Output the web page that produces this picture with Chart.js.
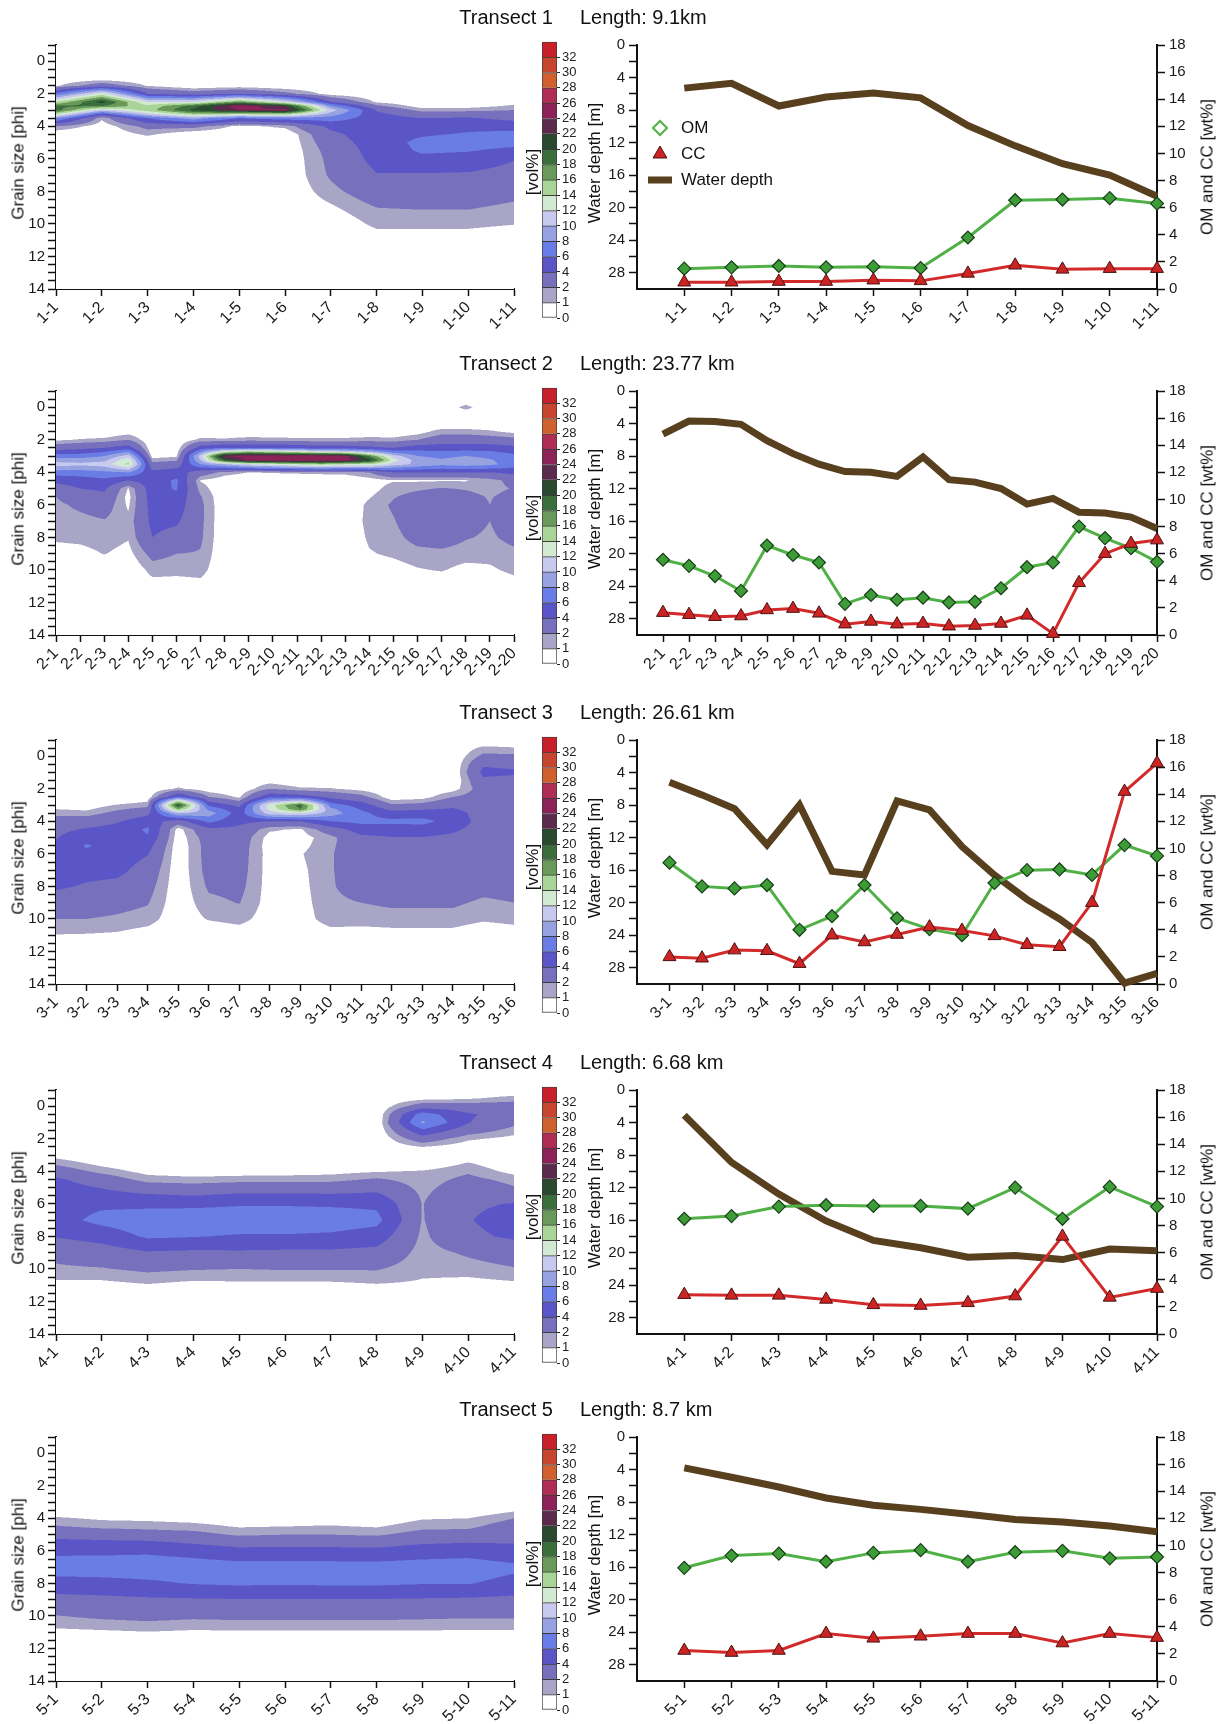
<!DOCTYPE html>
<html>
<head>
<meta charset="utf-8">
<title>Transects</title>
<script src="https://cdn.jsdelivr.net/npm/chart.js@4.4.1/dist/chart.umd.min.js"></script>
<style>
	body { margin: 0; background: #fff; }
	#page { position: relative; width: 1226px; height: 1724px; overflow: hidden; font-family: "Liberation Sans", Arial, sans-serif; color: #111; }
	#page canvas { position: absolute; }
	.title { position: absolute; font-size: 20px; line-height: 20px; white-space: nowrap; transform: translateY(-50%); }
	.axis-title { position: absolute; font-size: 17px; line-height: 17px; white-space: nowrap; transform: translate(-50%, -50%) rotate(-90deg); }
</style>
</head>
<body>
<div id="page"></div>
<script>
// grain size classes (phi) at which each sample's vol% is given
const phiGrid = [-1, -0.5, 0, 0.5, 1, 1.5, 2, 2.5, 2.75, 3, 3.25, 3.5, 4, 4.5, 5, 5.5, 6, 7, 8, 9, 10, 11, 12];
const volLevels = [0, 1, 2, 4, 6, 8, 10, 12, 14, 16, 18, 20, 22, 24, 26, 28, 30, 32];
const volColors = ['#ffffff', '#a8a5c7', '#7670bd', '#5a56c8', '#6a7ce6', '#97a3e0', '#c8c9ee', '#d2e9d2', '#a8d497', '#6a9a5a', '#3a6e3c', '#2a4a30', '#5c2a4c', '#8c2358', '#b02e55', '#d0602e', '#c84530', '#c8202a'];
const grainTickLabels = [0, 2, 4, 6, 8, 10, 12, 14];
const depthTickValues = [0, 2, 4, 6, 8, 10, 12, 14, 16, 18, 20, 22, 24, 26, 28];
const wtTickValues = [0, 2, 4, 6, 8, 10, 12, 14, 16, 18];
const legendLabels = ['OM', 'CC', 'Water depth'];

const t1Samples = ['1-1', '1-2', '1-3', '1-4', '1-5', '1-6', '1-7', '1-8', '1-9', '1-10', '1-11'];
const t1Depth = [5.3, 4.7, 7.5, 6.4, 5.9, 6.5, 9.9, 12.4, 14.6, 16.0, 18.6];
const t1OM = [1.5, 1.6, 1.7, 1.6, 1.65, 1.55, 3.8, 6.55, 6.6, 6.7, 6.3];
const t1CC = [0.5, 0.5, 0.55, 0.55, 0.65, 0.6, 1.15, 1.75, 1.45, 1.5, 1.5];
const t1Grain = [
	[0, 0, 0, 0, 0, 0.8, 6.5, 14, 18.5, 19, 14, 8, 2, 0, 0, 0, 0, 0, 0, 0, 0, 0, 0],
	[0, 0, 0, 0, 0, 3, 13, 21, 18, 11, 5, 1.2, 0.3, 0, 0, 0, 0, 0, 0, 0, 0, 0, 0],
	[0, 0, 0, 0, 0, 0.9, 4, 12, 14.5, 15, 11, 6, 2.5, 1.2, 0, 0, 0, 0, 0, 0, 0, 0, 0],
	[0, 0, 0, 0, 0, 0, 3, 12, 19, 20.5, 15, 9, 2.5, 0, 0, 0, 0, 0, 0, 0, 0, 0, 0],
	[0, 0, 0, 0, 0, 0.3, 4, 17, 25.5, 24, 14, 6, 0.6, 0, 0, 0, 0, 0, 0, 0, 0, 0, 0],
	[0, 0, 0, 0, 0, 0, 2.5, 12, 22, 24.5, 15, 7, 1.3, 0, 0, 0, 0, 0, 0, 0, 0, 0, 0],
	[0, 0, 0, 0, 0, 0, 0.5, 4, 8, 11, 9, 7, 4.5, 3.5, 3, 2.6, 2.4, 2.2, 1.6, 0.8, 0, 0, 0],
	[0, 0, 0, 0, 0, 0, 0, 0.8, 2.3, 3.8, 4.5, 5, 5.2, 5.2, 5, 4.8, 4.6, 3.9, 3, 2, 1.3, 0.3, 0],
	[0, 0, 0, 0, 0, 0, 0, 0, 0.4, 1.5, 2.8, 4, 5, 5.8, 6.5, 6.3, 5.5, 3.8, 3, 2.1, 1.3, 0.3, 0],
	[0, 0, 0, 0, 0, 0, 0, 0, 0.5, 1.6, 3, 4.2, 5.5, 6.2, 6.8, 6.1, 5.3, 3.7, 3, 2.1, 1.3, 0.3, 0],
	[0, 0, 0, 0, 0, 0, 0, 0.5, 1.2, 2, 2.8, 3.5, 5, 6.8, 6.6, 5.5, 4.1, 3.2, 2.5, 1.7, 1.05, 0, 0],
];

const t2Samples = ['2-1', '2-2', '2-3', '2-4', '2-5', '2-6', '2-7', '2-8', '2-9', '2-10', '2-11', '2-12', '2-13', '2-14', '2-15', '2-16', '2-17', '2-18', '2-19', '2-20'];
const t2Depth = [5.3, 3.7, 3.75, 4.1, 6.1, 7.7, 9.0, 9.9, 10.0, 10.5, 8.1, 10.9, 11.2, 12.0, 13.9, 13.2, 14.9, 15.0, 15.5, 16.9];
const t2OM = [5.55, 5.1, 4.35, 3.25, 6.6, 5.9, 5.35, 2.3, 2.95, 2.6, 2.75, 2.4, 2.45, 3.45, 5.0, 5.35, 8.0, 7.15, 6.4, 5.4];
const t2CC = [1.65, 1.5, 1.35, 1.4, 1.85, 1.95, 1.6, 0.8, 1.0, 0.8, 0.85, 0.65, 0.7, 0.85, 1.45, 0.1, 3.85, 6.0, 6.75, 7.0];
const t2Grain = [
	[0, 0, 0, 0, 0, 0, 0.8, 3, 5, 7, 9, 11, 7, 4.5, 3, 2, 1.7, 1.5, 1.2, 0.5, 0, 0, 0],
	[0, 0, 0, 0, 0, 0, 1.1, 3.5, 5.2, 7, 9, 10.5, 7, 5, 4, 3, 2.3, 1.6, 1.3, 0.6, 0, 0, 0],
	[0, 0, 0, 0, 0, 0, 1.3, 4, 6, 8, 9.5, 11, 7.5, 5.5, 4.3, 3.5, 2.8, 1.9, 1.5, 1.05, 0, 0, 0],
	[0, 0, 0, 0, 0, 0.5, 2, 5, 8, 11, 13.5, 14.5, 8, 4, 0.9, 0.6, 0.8, 1.3, 1.1, 0.6, 0, 0, 0],
	[0, 0, 0, 0, 0, 0, 0, 0, 0, 0.5, 1.5, 2.5, 4.5, 5, 5.2, 5, 4.8, 4.5, 4, 2.5, 1.4, 0.5, 0],
	[0, 0, 0, 0, 0, 0, 0, 0.3, 0.5, 0.8, 1.8, 3, 5, 6.3, 6.2, 5.4, 5, 4.3, 3.3, 2, 1.3, 0.5, 0],
	[0, 0, 0, 0, 0, 0, 1.3, 5, 8, 11, 10, 8, 3, 0.9, 1.5, 2.1, 2.3, 2.3, 2.2, 1.9, 1.4, 0.6, 0],
	[0, 0, 0, 0, 0, 0, 1.2, 6, 14, 24, 20, 10, 1.5, 0.3, 0, 0, 0, 0, 0, 0, 0, 0, 0],
	[0, 0, 0, 0, 0, 0, 1.5, 6, 16, 25.5, 25, 12, 1, 0, 0, 0, 0, 0, 0, 0, 0, 0, 0],
	[0, 0, 0, 0, 0, 0, 1.4, 6, 15, 25.5, 25.5, 13, 1.1, 0, 0, 0, 0, 0, 0, 0, 0, 0, 0],
	[0, 0, 0, 0, 0, 0, 1.3, 5.5, 14, 25.5, 25.8, 14, 1.2, 0, 0, 0, 0, 0, 0, 0, 0, 0, 0],
	[0, 0, 0, 0, 0, 0, 1.3, 5, 13, 25, 25.5, 15, 1.3, 0, 0, 0, 0, 0, 0, 0, 0, 0, 0],
	[0, 0, 0, 0, 0, 0, 1.3, 5, 12, 24.8, 25, 14, 1.4, 0, 0, 0, 0, 0, 0, 0, 0, 0, 0],
	[0, 0, 0, 0, 0, 0, 1.5, 4.5, 10, 18, 21, 14, 2, 0.5, 0.5, 0.9, 1.3, 1.4, 1.2, 0.9, 0.3, 0, 0],
	[0, 0, 0, 0, 0, 0, 1.4, 4, 7, 11, 13, 11, 4, 0.9, 1.5, 1.9, 2.2, 1.9, 1.6, 1.2, 0.5, 0, 0],
	[0, 0, 0, 0, 0, 0.5, 2, 5, 6.5, 8, 9, 9.5, 4, 0.85, 1.8, 2.5, 2.9, 3, 2.5, 1.6, 0.9, 0, 0],
	[0, 0, 0, 0, 0, 1.5, 3, 5, 6.3, 7.5, 8.2, 8.5, 4, 0.9, 2.1, 2.8, 3.2, 3.3, 2.7, 1.7, 1.1, 0, 0],
	[0, 0, 1.4, 0, 0, 1.5, 3, 5, 6.5, 8, 9, 9, 4, 0.9, 1.9, 2.4, 2.6, 2.5, 2.1, 1.5, 0.6, 0, 0],
	[0, 0, 0, 0, 0, 1.2, 2.8, 5, 6.3, 7.5, 8.2, 8.5, 4, 1.5, 1.6, 1.9, 2, 2, 1.8, 1.4, 0.8, 0, 0],
	[0, 0, 0, 0, 0, 0.7, 2.5, 4.5, 5.5, 6.5, 7, 7, 4.5, 2.5, 2.1, 2.5, 2.8, 2.8, 2.4, 1.7, 1.3, 0.4, 0],
];

const t3Samples = ['3-1', '3-2', '3-3', '3-4', '3-5', '3-6', '3-7', '3-8', '3-9', '3-10', '3-11', '3-12', '3-13', '3-14', '3-15', '3-16'];
const t3Depth = [5.2, 6.75, 8.45, 12.9, 8.0, 16.15, 16.6, 7.5, 8.6, 13.1, 16.6, 19.6, 22.0, 24.9, 29.9, 28.7];
const t3OM = [8.95, 7.2, 7.05, 7.3, 4.0, 5.0, 7.3, 4.85, 4.05, 3.6, 7.45, 8.4, 8.45, 8.05, 10.25, 9.45];
const t3CC = [2.0, 1.9, 2.5, 2.45, 1.5, 3.6, 3.1, 3.65, 4.2, 3.95, 3.55, 2.9, 2.75, 6.0, 14.2, 16.3];
const t3Grain = [
	[0, 0, 0, 0, 0, 0, 0, 0, 0.2, 0.5, 1, 1.6, 2.8, 3.5, 3.9, 4.3, 4.6, 4.8, 4.3, 3, 2, 0.95, 0],
	[0, 0, 0, 0, 0, 0, 0, 0, 0, 0.3, 0.8, 1.4, 3, 4.2, 5.2, 6.2, 5.5, 4.6, 3.8, 2.8, 2, 0.9, 0],
	[0, 0, 0, 0, 0, 0, 0, 0, 0.4, 1.1, 1.8, 2.5, 3.8, 4.7, 5, 5.1, 5, 4.5, 3.5, 2.5, 1.8, 0.8, 0],
	[0, 0, 0, 0, 0, 0, 0, 0.3, 0.9, 1.5, 2.5, 3.5, 5.2, 6.3, 5.8, 4.8, 4.1, 3.2, 2.6, 2.1, 1.5, 0.4, 0],
	[0, 0, 0, 0, 0, 0, 1.2, 6, 14, 20.5, 16, 10, 3, 0.5, 0.3, 0.2, 0.2, 0.2, 0.2, 0.2, 0.2, 0, 0],
	[0, 0, 0, 0, 0, 0, 0.3, 2, 3.8, 5.5, 7.5, 9, 6.5, 3.5, 2.8, 2.6, 2.6, 2.5, 2.2, 1.7, 1.1, 0, 0],
	[0, 0, 0, 0, 0, 0, 0, 0.8, 2, 3.5, 4.5, 5, 4.5, 3.5, 3, 2.8, 2.7, 2.6, 2.4, 2.05, 1.4, 0.3, 0],
	[0, 0, 0, 0, 0, 0.5, 2, 5.5, 9, 13, 12.5, 11, 4, 1.2, 0.5, 0.4, 0.5, 0.5, 0.5, 0.5, 0.4, 0, 0],
	[0, 0, 0, 0, 0, 0, 1.2, 5, 11, 19, 18, 12, 4, 0.8, 0.5, 0.6, 0.9, 0.7, 0.6, 0.5, 0.4, 0, 0],
	[0, 0, 0, 0, 0, 0, 1.1, 3.5, 5, 7, 8.5, 9, 6, 3, 1.6, 1.8, 1.9, 1.9, 1.9, 1.8, 1.6, 0.4, 0],
	[0, 0, 0, 0, 0, 0, 0.6, 2.5, 3.8, 5, 5.8, 6.5, 6.5, 5, 3.5, 3, 2.9, 2.8, 2.5, 2, 1.5, 0.4, 0],
	[0, 0, 0, 0, 0, 0, 0, 0.3, 1.2, 2.2, 3.5, 4.8, 6.5, 5, 3.9, 3.5, 3.3, 3.1, 2.8, 2.2, 1.6, 0.5, 0],
	[0, 0, 0, 0, 0, 0, 0, 0.5, 1.5, 2.5, 3.8, 5, 6.6, 5, 3.9, 3.5, 3.3, 3.1, 2.8, 2.2, 1.6, 0.5, 0],
	[0, 0, 0, 0, 0, 0, 0.5, 2, 2.8, 3.5, 4.2, 4.8, 5.2, 4.3, 3.6, 3.3, 3.2, 3, 2.8, 2.2, 1.6, 0.5, 0],
	[0, 1.3, 2.4, 3.8, 4.5, 3.6, 2.8, 2.8, 2.85, 2.9, 3, 3.1, 3.2, 3.2, 3.1, 3, 2.9, 2.8, 2.4, 1.8, 1.2, 0, 0],
	[0, 1.1, 2.3, 3.5, 4.3, 3.3, 2.9, 2.8, 2.8, 2.9, 2.95, 3, 3.1, 3.1, 3, 3, 2.9, 2.8, 2.5, 2, 1.4, 0.3, 0],
];

const t4Samples = ['4-1', '4-2', '4-3', '4-4', '4-5', '4-6', '4-7', '4-8', '4-9', '4-10', '4-11'];
const t4Depth = [3.1, 8.9, 12.8, 16.1, 18.5, 19.4, 20.55, 20.35, 20.85, 19.55, 19.75];
const t4OM = [8.5, 8.7, 9.4, 9.5, 9.45, 9.45, 9.25, 10.8, 8.5, 10.85, 9.4];
const t4CC = [2.9, 2.85, 2.85, 2.55, 2.15, 2.1, 2.3, 2.8, 7.2, 2.7, 3.35];
const t4Grain = [
	[0, 0, 0, 0, 0, 0, 0, 0, 0, 0.5, 1.1, 1.7, 3, 4.3, 4.8, 5, 5.1, 5.2, 4.1, 2.4, 1.8, 0.6, 0],
	[0, 0, 0, 0, 0, 0, 0, 0, 0, 0, 0.2, 0.6, 1.6, 3, 3.9, 4.8, 5.6, 6.6, 4.8, 3, 1.9, 0.6, 0],
	[0, 0, 0, 0, 0, 0, 0, 0, 0, 0, 0, 0, 0.6, 1.5, 2.9, 4.3, 5.5, 7.2, 6.3, 3.8, 2.3, 0.9, 0],
	[0, 0, 0, 0, 0, 0, 0, 0, 0, 0, 0, 0, 0.4, 1.3, 2.7, 4, 5.5, 7.4, 6.1, 3.6, 2.1, 0.6, 0],
	[0, 0, 0, 0, 0, 0, 0, 0, 0, 0, 0, 0, 0.4, 1.5, 3, 4.4, 5.8, 7.3, 5.8, 3.7, 2, 0.7, 0],
	[0, 0, 0, 0, 0, 0, 0, 0, 0, 0, 0, 0, 0.5, 1.5, 3, 4.4, 5.8, 7.3, 5.8, 3.6, 2.1, 0.7, 0],
	[0, 0, 0, 0, 0, 0, 0, 0, 0, 0, 0, 0, 0.6, 1.6, 3, 4.3, 5.7, 7.2, 5.6, 3.6, 2.1, 0.7, 0],
	[0, 0, 0, 0, 0, 0, 0, 0, 0, 0, 0, 0, 0.9, 2.2, 3.3, 4.5, 5.6, 6.6, 5, 3.4, 2.1, 0.9, 0],
	[0, 0.5, 3, 7, 8.3, 5.5, 3, 1, 0.5, 0, 0, 0, 1.1, 1.4, 1.6, 1.8, 1.95, 1.9, 1.7, 1.5, 1.3, 0.8, 0],
	[0, 0.8, 2.8, 4.2, 4.1, 2.8, 1.2, 0.3, 0.1, 0.2, 0.5, 1.1, 1.8, 2.4, 2.9, 3.3, 3.7, 3.9, 3.6, 2.2, 1.5, 0.5, 0],
	[0, 1.4, 2.8, 3.3, 2.4, 1.5, 0.6, 0, 0, 0, 0, 0, 0.6, 1.6, 2.1, 3, 4.1, 4.8, 4.3, 2.8, 1.9, 0.7, 0],
];

const t5Samples = ['5-1', '5-2', '5-3', '5-4', '5-5', '5-6', '5-7', '5-8', '5-9', '5-10', '5-11'];
const t5Depth = [3.8, 4.95, 6.15, 7.5, 8.4, 8.9, 9.5, 10.15, 10.45, 10.95, 11.65];
const t5OM = [8.35, 9.25, 9.4, 8.8, 9.45, 9.65, 8.8, 9.5, 9.6, 9.05, 9.15];
const t5CC = [2.25, 2.1, 2.25, 3.5, 3.15, 3.3, 3.5, 3.5, 2.8, 3.5, 3.2];
const t5Grain = [
	[0, 0, 0, 0, 0, 0, 0, 0, 0, 0, 0, 0, 1.2, 2.1, 3.2, 4.7, 5.6, 6.9, 5.3, 3.3, 1.95, 0.7, 0],
	[0, 0, 0, 0, 0, 0, 0, 0, 0, 0, 0, 0, 0.8, 1.7, 3, 4.5, 5.6, 7, 5.4, 3.5, 2.3, 0.8, 0],
	[0, 0, 0, 0, 0, 0, 0, 0, 0, 0, 0, 0, 0.7, 1.6, 2.7, 4.4, 5.7, 7, 5.7, 3.7, 2.5, 0.95, 0],
	[0, 0, 0, 0, 0, 0, 0, 0, 0, 0, 0, 0, 0.5, 1.4, 2.5, 3.8, 5.3, 6.9, 6.1, 3.8, 2.3, 0.8, 0],
	[0, 0, 0, 0, 0, 0, 0, 0, 0, 0, 0, 0, 0.2, 0.9, 1.8, 3.2, 4.6, 6.8, 6.3, 3.9, 2.4, 0.85, 0],
	[0, 0, 0, 0, 0, 0, 0, 0, 0, 0, 0, 0, 0.3, 1, 2, 3.3, 4.7, 6.8, 6.2, 3.9, 2.4, 0.85, 0],
	[0, 0, 0, 0, 0, 0, 0, 0, 0, 0, 0, 0, 0.4, 1.1, 2, 3.3, 4.6, 6.8, 6.3, 3.9, 2.4, 0.85, 0],
	[0, 0, 0, 0, 0, 0, 0, 0, 0, 0, 0, 0, 0.2, 0.9, 1.8, 3.2, 4.5, 6.8, 6.3, 3.9, 2.4, 0.85, 0],
	[0, 0, 0, 0, 0, 0, 0, 0, 0, 0, 0, 0, 0.9, 1.6, 2.6, 3.8, 5, 6.9, 6.1, 3.8, 2.3, 0.85, 0],
	[0, 0, 0, 0, 0, 0, 0, 0, 0, 0, 0, 0, 1, 1.7, 2.7, 4, 5.2, 7, 6.1, 3.7, 2.2, 0.8, 0],
	[0, 0, 0, 0, 0, 0, 0, 0, 0, 0, 0, 0.8, 2, 2.8, 3.4, 3.9, 4.7, 6.4, 5.4, 3.5, 2.2, 0.8, 0],
];

const transects = [
	{ title: 'Transect 1', length: 'Length: 9.1km', samples: t1Samples, depth: t1Depth, om: t1OM, cc: t1CC, grain: t1Grain },
	{ title: 'Transect 2', length: 'Length: 23.77 km', samples: t2Samples, depth: t2Depth, om: t2OM, cc: t2CC, grain: t2Grain },
	{ title: 'Transect 3', length: 'Length: 26.61 km', samples: t3Samples, depth: t3Depth, om: t3OM, cc: t3CC, grain: t3Grain },
	{ title: 'Transect 4', length: 'Length: 6.68 km', samples: t4Samples, depth: t4Depth, om: t4OM, cc: t4CC, grain: t4Grain },
	{ title: 'Transect 5', length: 'Length: 8.7 km', samples: t5Samples, depth: t5Depth, om: t5OM, cc: t5CC, grain: t5Grain },
];

const rowTops = [17, 363, 712, 1062, 1409];

Chart.defaults.font.family = '"Liberation Sans", Arial, sans-serif';
Chart.defaults.color = '#1a1a1a';

const page = document.getElementById('page');

function addCanvas(left, top, width, height) {
	const canvas = document.createElement('canvas');
	canvas.width = width;
	canvas.height = height;
	canvas.style.left = `${left}px`;
	canvas.style.top = `${top}px`;
	page.appendChild(canvas);
	return canvas;
}

function addText(className, text, style) {
	const div = document.createElement('div');
	div.className = className;
	div.textContent = text;
	Object.assign(div.style, style);
	page.appendChild(div);
}

function hexToRgb(hex) {
	return [1, 3, 5].map((i) => parseInt(hex.slice(i, i + 2), 16));
}

function volColorIndex(v) {
	let k = 0;
	while (k < volLevels.length - 1 && v >= volLevels[k + 1]) k++;
	return k;
}

function grainAt(grain, col, phi) {
	const last = phiGrid.length - 1;
	if (phi <= phiGrid[0] || phi >= phiGrid[last]) return 0;
	col = Math.max(0, Math.min(grain.length - 1, col));
	const i = Math.min(Math.floor(col), grain.length - 2);
	const t = col - i;
	let j = 0;
	while (j < last - 1 && phi > phiGrid[j + 1]) j++;
	const s = (phi - phiGrid[j]) / (phiGrid[j + 1] - phiGrid[j]);
	const a = grain[i][j] + (grain[i][j + 1] - grain[i][j]) * s;
	const b = grain[i + 1][j] + (grain[i + 1][j + 1] - grain[i + 1][j]) * s;
	return a + (b - a) * t;
}

// filled contours, painted pixel by pixel through the chart's own scales
function contourLayer(grain) {
	return {
		id: 'contourLayer',
		beforeDatasetsDraw(chart) {
			const { ctx, chartArea: area, scales: { x, y } } = chart;
			const w = Math.round(area.right - area.left);
			const h = Math.round(area.bottom - area.top);
			const off = document.createElement('canvas');
			off.width = w;
			off.height = h;
			const octx = off.getContext('2d');
			const img = octx.createImageData(w, h);
			const rgb = volColors.map(hexToRgb);
			const subs = [0.25, 0.75];
			const cols = [];
			for (let px = 0; px < w; px++) {
				cols.push(subs.map((o) => x.getValueForPixel(area.left + px + o)));
			}
			for (let py = 0; py < h; py++) {
				const phis = subs.map((o) => y.getValueForPixel(area.top + py + o));
				for (let px = 0; px < w; px++) {
					let r = 0, g = 0, b = 0;
					for (const col of cols[px]) {
						for (const phi of phis) {
							const c = rgb[volColorIndex(grainAt(grain, col, phi))];
							r += c[0]; g += c[1]; b += c[2];
						}
					}
					const k = (py * w + px) * 4;
					img.data[k] = r / 4;
					img.data[k + 1] = g / 4;
					img.data[k + 2] = b / 4;
					img.data[k + 3] = 255;
				}
			}
			octx.putImageData(img, 0, 0);
			ctx.drawImage(off, area.left, area.top);
		}
	};
}

const insideLegend = {
	id: 'insideLegend',
	afterDraw(chart) {
		const { ctx, chartArea: a } = chart;
		const mx = a.left + 23;
		const tx = a.left + 44;
		const rows = [a.top + 83, a.top + 109, a.top + 135];
		ctx.save();
		ctx.fillStyle = '#ffffff';
		ctx.strokeStyle = '#4fb045';
		ctx.lineWidth = 2;
		Chart.helpers.drawPoint(ctx, { pointStyle: 'rectRot', radius: 7, borderWidth: 2 }, mx, rows[0]);
		ctx.fillStyle = '#cc2323';
		ctx.strokeStyle = '#4a1212';
		ctx.lineWidth = 1;
		Chart.helpers.drawPoint(ctx, { pointStyle: 'triangle', radius: 8, borderWidth: 1 }, mx, rows[1]);
		ctx.fillStyle = '#58401f';
		ctx.fillRect(a.left + 11, rows[2] - 3.5, 24, 7);
		ctx.fillStyle = '#111';
		ctx.font = '17px "Liberation Sans", Arial, sans-serif';
		ctx.textBaseline = 'middle';
		legendLabels.forEach((label, i) => ctx.fillText(label, tx, rows[i]));
		ctx.restore();
	}
};

function axisGrid(length) {
	return { drawOnChartArea: false, tickLength: length, tickColor: '#111', tickWidth: 1.5 };
}

function axisBorder() {
	return { color: '#111', width: 2 };
}

function sampleAxis(samples, min) {
	return {
		type: 'linear',
		min: min,
		max: samples.length - 1,
		afterBuildTicks: (s) => { s.ticks = samples.map((_, i) => ({ value: i })); },
		afterFit: (s) => { s.height = 68; },
		ticks: { autoSkip: false, maxRotation: 45, minRotation: 45, font: { size: 16 }, padding: 2, callback: (v) => samples[v] },
		grid: axisGrid(7),
		border: axisBorder(),
	};
}

function buildContour(canvas, tr) {
	const grainTicks = [];
	for (let v = -1; v <= 14; v += 0.5) grainTicks.push(v);

	new Chart(canvas, {
		type: 'scatter',
		data: { datasets: [] },
		plugins: [contourLayer(tr.grain)],
		options: {
			responsive: false,
			animation: false,
			events: [],
			layout: { padding: { top: 18, right: 16 } },
			plugins: { legend: { display: false }, tooltip: { enabled: false } },
			scales: {
				x: sampleAxis(tr.samples, 0),
				y: {
					type: 'linear',
					reverse: true,
					min: -1,
					max: 14,
					afterBuildTicks: (s) => { s.ticks = grainTicks.map((v) => ({ value: v })); },
					afterFit: (s) => { s.width = 56; },
					ticks: { autoSkip: false, font: { size: 15 }, padding: 3, callback: (v) => (grainTickLabels.includes(v) ? v : '') },
					grid: axisGrid(8),
					border: axisBorder(),
				}
			}
		}
	});
}

function buildColorbar(canvas) {
	new Chart(canvas, {
		type: 'bar',
		data: {
			labels: ['vol%'],
			datasets: volColors.map((c, i) => ({
				data: [1],
				backgroundColor: c,
				borderColor: '#3c3c3c',
				borderWidth: { top: 1, bottom: i === 0 ? 1 : 0, left: 1, right: 1 },
				borderSkipped: false,
				barPercentage: 1,
				categoryPercentage: 1,
			}))
		},
		options: {
			responsive: false,
			animation: false,
			events: [],
			layout: { padding: { left: 2, top: 6, bottom: 14 } },
			plugins: { legend: { display: false }, tooltip: { enabled: false } },
			scales: {
				x: { display: false, stacked: true },
				y: {
					stacked: true,
					position: 'right',
					min: 0,
					max: volColors.length,
					afterBuildTicks: (s) => { s.ticks = volLevels.map((_, i) => ({ value: i })); },
					afterFit: (s) => { s.width = 28; },
					ticks: { autoSkip: false, font: { size: 13, family: '"Liberation Sans Narrow", "Liberation Sans", Arial, sans-serif' }, padding: 2, color: '#222', callback: (v) => volLevels[v] },
					grid: { drawOnChartArea: false, tickLength: 3, tickColor: '#222' },
					border: { display: false },
				}
			}
		}
	});
}

function buildProfile(canvas, tr, withLegend) {
	const points = (arr) => arr.map((v, i) => ({ x: i, y: v }));

	new Chart(canvas, {
		type: 'line',
		data: {
			datasets: [
				{
					label: 'CC',
					data: points(tr.cc),
					yAxisID: 'y2',
					order: 1,
					clip: false,
					borderColor: '#d22a2a',
					borderWidth: 3,
					pointStyle: 'triangle',
					pointRadius: 7.5,
					pointBackgroundColor: '#cc2323',
					pointBorderColor: '#4a1212',
					pointBorderWidth: 1,
				},
				{
					label: 'OM',
					data: points(tr.om),
					yAxisID: 'y2',
					order: 2,
					clip: false,
					borderColor: '#4fb045',
					borderWidth: 3,
					pointStyle: 'rectRot',
					pointRadius: 6.5,
					pointBackgroundColor: '#3e9c38',
					pointBorderColor: '#173f17',
					pointBorderWidth: 1.2,
				},
				{
					label: 'Water depth',
					data: points(tr.depth),
					yAxisID: 'y',
					order: 3,
					clip: false,
					borderColor: '#58401f',
					borderWidth: 7,
					pointRadius: 0,
				}
			]
		},
		plugins: withLegend ? [insideLegend] : [],
		options: {
			responsive: false,
			animation: false,
			events: [],
			layout: { padding: { top: 18 } },
			elements: { line: { tension: 0 } },
			plugins: { legend: { display: false }, tooltip: { enabled: false } },
			scales: {
				x: sampleAxis(tr.samples, -1),
				y: {
					position: 'left',
					reverse: true,
					min: 0,
					max: 30,
					afterBuildTicks: (s) => { s.ticks = depthTickValues.map((v) => ({ value: v })); },
					afterFit: (s) => { s.width = 77; },
					ticks: { autoSkip: false, font: { size: 15 }, padding: 4, callback: (v) => (v % 4 === 0 ? v : '') },
					grid: axisGrid(8),
					border: axisBorder(),
				},
				y2: {
					position: 'right',
					min: 0,
					max: 18,
					afterBuildTicks: (s) => { s.ticks = wtTickValues.map((v) => ({ value: v })); },
					afterFit: (s) => { s.width = 69; },
					ticks: { autoSkip: false, font: { size: 15 }, padding: 4 },
					grid: axisGrid(8),
					border: axisBorder(),
				}
			}
		}
	});
}

transects.forEach((tr, r) => {
	const top = rowTops[r];

	buildContour(addCanvas(0, top + 10, 530, 330), tr);
	buildColorbar(addCanvas(540, top + 15, 45, 300));
	buildProfile(addCanvas(560, top + 10, 666, 330), tr, r === 0);

	addText('title', tr.title, { right: '673px', top: `${top}px` });
	addText('title', tr.length, { left: '580px', top: `${top}px` });
	addText('axis-title', 'Grain size [phi]', { left: '18px', top: `${top + 146}px` });
	addText('axis-title', '[vol%]', { left: '532px', top: `${top + 155}px` });
	addText('axis-title', 'Water depth [m]', { left: '594px', top: `${top + 146}px` });
	addText('axis-title', 'OM and CC [wt%]', { left: '1207px', top: `${top + 150}px` });
});
</script>
</body>
</html>
